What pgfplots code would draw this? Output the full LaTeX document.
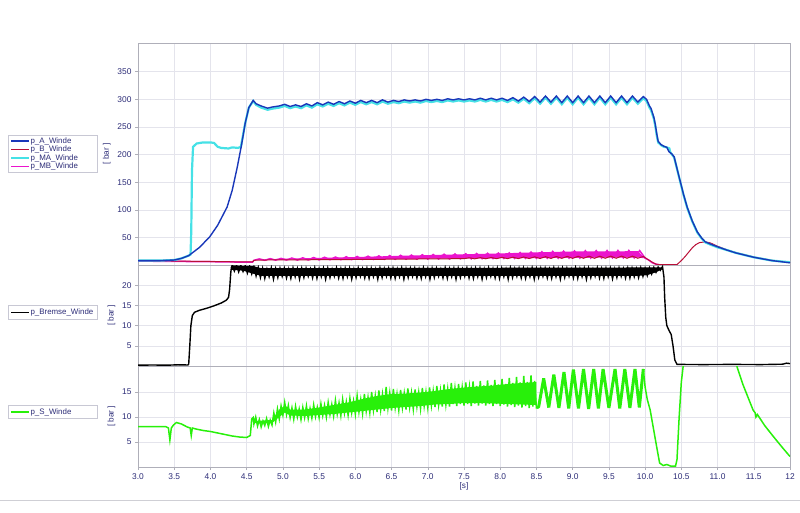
\documentclass[border=0pt]{standalone}
\usepackage{pgfplots}
\pgfplotsset{compat=1.18}
\usepackage{fontspec}
\setmainfont{Liberation Sans}

\definecolor{navy}{RGB}{45,45,120}
\definecolor{cA}{RGB}{25,55,185}
\definecolor{cB}{RGB}{185,15,55}
\definecolor{cMA}{RGB}{70,225,230}
\definecolor{cMB}{RGB}{235,20,205}
\definecolor{cS}{RGB}{40,240,10}
\definecolor{framec}{RGB}{175,175,185}
\definecolor{gridc}{RGB}{228,228,236}
\definecolor{legbox}{RGB}{200,200,212}

\pgfplotsset{
  panel/.style={
    scale only axis, width=652pt,
    xmin=3, xmax=12, ymin=0,
    xtick={3,3.5,...,12},
    grid=major, major grid style={gridc,line width=0.5pt},
    axis line style={framec,line width=0.6pt},
    tick style={framec,line width=0.5pt},
    tick align=outside, tick pos=left, major tick length=3pt,
    ticklabel style={font=\fontsize{8.4}{9}\selectfont, text=navy},
    /pgf/number format/assume math mode=true,
    ylabel={[ bar ]},
    ylabel style={font=\fontsize{8.2}{9}\selectfont, text=navy},
    legend cell align=left,
    legend image code/.code={\draw[##1] (0pt,0pt) -- (18pt,0pt);},
    legend style={draw=legbox, fill=white, font=\fontsize{7.9}{9}\selectfont,
      text=navy, anchor=north west, inner xsep=2.5pt, inner ysep=1.8pt,
      nodes={inner sep=0.6pt}},
  },
  upper/.style={panel, xticklabels={}, xtick style={draw=none}},
}

\begin{document}
\begin{tikzpicture}
\useasboundingbox (0,0) rectangle (800pt,512pt);
\draw[framec!60] (0pt,12pt) -- (800pt,12pt);

% ---------------- top panel: winch pressures ----------------
\begin{axis}[upper, at={(138pt,247pt)}, anchor=south west, height=222pt,
  ymax=402, ytick={50,100,...,350},
  legend style={at={(axis description cs:-0.1994,0.586)}}]
\addlegendimage{cA, line width=1.3pt}
\addlegendentry{\makebox[64pt][l]{p\_A\_Winde}}
\addlegendimage{cB, line width=1.3pt}
\addlegendentry{\makebox[64pt][l]{p\_B\_Winde}}
\addlegendimage{cMA, line width=1.3pt}
\addlegendentry{\makebox[64pt][l]{p\_MA\_Winde}}
\addlegendimage{cMB, line width=1.3pt}
\addlegendentry{\makebox[64pt][l]{p\_MB\_Winde}}

% p_MB_Winde (band body, then the ripple itself)
\addplot[draw=none, fill=cMB, forget plot] coordinates {
(4.60,9.0)(5.00,11.5)(6.00,14.5)(7.00,18.0)(8.00,21.0)(8.50,23.0)(9.00,24.5)(9.90,25.0)(10.00,12.0)
(9.90,13.5)(9.00,13.0)(8.00,12.3)(7.00,11.3)(6.00,10.3)(5.00,9.5)(4.60,9.0)};
\addplot[cMB, line width=1.5pt, forget plot] coordinates {
(3.00,7.0)(4.00,6.0)(4.58,5.0)
(4.600,8.5)(4.675,11.0)(4.750,8.6)(4.825,11.5)(4.900,8.8)(4.975,12.0)(5.050,9.0)(5.125,12.6)(5.200,9.0)(5.275,13.0)
(5.350,9.2)(5.425,13.5)(5.500,9.3)(5.575,14.0)(5.650,9.5)(5.725,14.4)(5.800,9.6)(5.875,14.9)(5.950,9.8)(6.025,15.4)
(6.100,9.9)(6.175,16.0)(6.250,10.0)(6.325,16.5)(6.400,10.2)(6.475,17.0)(6.550,10.3)(6.625,17.5)(6.700,10.5)(6.775,18.0)
(6.850,10.6)(6.925,18.6)(7.000,10.8)(7.075,19.0)(7.150,10.9)(7.225,19.5)(7.300,11.0)(7.375,20.0)(7.450,11.2)(7.525,20.4)
(7.600,11.3)(7.675,20.8)(7.750,11.5)(7.825,21.2)(7.900,11.6)(7.975,21.6)(8.050,11.8)(8.125,22.0)(8.200,11.9)(8.275,22.6)
(8.350,12.0)(8.425,23.4)(8.500,12.1)(8.575,24.0)(8.650,12.2)(8.725,24.6)(8.800,12.3)(8.875,25.0)(8.950,12.4)(9.025,25.4)
(9.100,12.5)(9.175,25.8)(9.250,12.6)(9.325,26.0)(9.400,12.7)(9.475,26.2)(9.550,12.8)(9.625,26.3)(9.700,12.9)(9.775,26.3)
(9.850,12.9)(9.925,26.0)(10.000,12.5)
(10.05,9)(10.10,4)(10.15,1.5)(10.18,1.0)};

% p_B_Winde
\addplot[cB, line width=1pt, forget plot] coordinates {
(3.00,8.0)(3.30,7.5)(3.60,7.0)(3.90,6.5)(4.20,6.0)(4.50,5.5)(4.58,5.5)(4.60,8.5)(4.70,9.0)(5.00,9.2)
(5.50,9.6)(6.00,10.0)(6.50,10.5)(7.00,11.0)(7.50,11.5)
(7.575,13.0)(7.65,11.2)(7.725,13.3)(7.80,11.3)(7.875,13.6)(7.95,11.4)(8.025,13.9)(8.10,11.5)(8.175,14.2)(8.25,11.6)
(8.325,14.5)(8.40,11.7)(8.475,14.8)(8.55,11.8)(8.625,15.1)(8.70,11.9)(8.775,15.4)(8.85,12.0)(8.925,15.6)(9.00,12.0)
(9.075,15.8)(9.15,12.1)(9.225,16.0)(9.30,12.1)(9.375,16.0)(9.45,12.2)(9.525,16.1)(9.60,12.2)(9.675,16.1)(9.75,12.2)
(9.825,16.0)(9.90,12.2)(9.975,15.5)
(10.05,9)(10.10,5)(10.15,1.5)(10.20,0.8)(10.44,0.8)(10.50,8)(10.55,15)(10.60,23)(10.65,31)(10.70,37)
(10.75,40.5)(10.83,42)(10.90,40)(11.00,34)(11.13,27.5)(11.25,22.5)(11.50,14.5)(11.75,8.5)(12.00,4.5)};

% p_MA_Winde
\addplot[cMA, line width=2.2pt, forget plot] coordinates {
(3.00,8)(3.30,8)(3.50,9)(3.60,12)(3.70,17)(3.725,19)(3.735,60)(3.745,170)(3.76,214)(3.81,220)
(3.90,222)(4.00,222)(4.05,221)(4.10,214)(4.15,212)(4.25,211)(4.30,213)(4.38,212)(4.42,214)(4.48,257)
(4.53,285)(4.59,297)(4.63,290)(4.70,285)(4.79,281)(4.85,283)
(4.950,285)(5.025,288)(5.100,284)(5.175,287)(5.250,284)(5.325,289)(5.400,285)(5.475,291)(5.550,287)(5.625,292)
(5.700,288)(5.775,293)(5.850,289)(5.925,294)(6.000,290)(6.075,295)(6.150,291)(6.225,295)(6.300,291)(6.375,296)
(6.450,292)(6.525,295)(6.600,293)(6.675,296)(6.750,294)(6.825,296)(6.900,294)(6.975,297)(7.050,295)(7.125,297)
(7.200,295)(7.275,298)(7.350,296)(7.425,298)(7.500,296)(7.575,298)(7.650,296)(7.725,299)(7.800,296)(7.875,299)
(7.950,296)(8.025,299)(8.100,295)(8.175,300)(8.250,294)(8.325,301)(8.400,293)(8.475,302)(8.550,292)(8.625,303)
(8.700,292)(8.775,303)(8.850,291)(8.925,303)(9.000,291)(9.075,303)(9.150,291)(9.225,303)(9.300,291)(9.375,303)
(9.450,291)(9.525,303)(9.600,291)(9.675,303)(9.750,291)(9.825,303)(9.900,292)(9.975,302)
(10.02,297)(10.06,285)(10.08,281)(10.10,273)(10.12,265)(10.14,252)(10.16,235)(10.18,222)(10.22,217)(10.26,214)
(10.30,213)(10.335,211)(10.345,205)(10.37,200)(10.40,195)(10.44,174)(10.48,153)(10.53,127)(10.58,104)(10.65,79)
(10.72,59)(10.78,48)(10.83,41)(10.90,37)(11.00,32)(11.13,27)(11.25,22)(11.50,14)(11.75,8)(12.00,5)};

% p_A_Winde
\addplot[cA, line width=1.4pt, forget plot] coordinates {
(3.00,8)(3.30,8)(3.50,9)(3.60,12)(3.70,17)(3.76,23)(3.85,32)(3.99,51)(4.10,72)(4.23,105)
(4.30,135)(4.37,177)(4.43,218)(4.48,257)(4.53,285)(4.59,298)(4.63,292)(4.70,288)(4.79,284)(4.85,286)
(4.950,288)(5.025,291)(5.100,287)(5.175,290)(5.250,287)(5.325,292)(5.400,288)(5.475,294)(5.550,290)(5.625,295)
(5.700,291)(5.775,296)(5.850,292)(5.925,297)(6.000,293)(6.075,298)(6.150,294)(6.225,298)(6.300,294)(6.375,299)
(6.450,295)(6.525,298)(6.600,296)(6.675,299)(6.750,297)(6.825,299)(6.900,297)(6.975,300)(7.050,298)(7.125,300)
(7.200,298)(7.275,301)(7.350,299)(7.425,301)(7.500,299)(7.575,301)(7.650,299)(7.725,302)(7.800,299)(7.875,302)
(7.950,299)(8.025,302)(8.100,298)(8.175,303)(8.250,297)(8.325,304)(8.400,296)(8.475,305)(8.550,295)(8.625,306)
(8.700,295)(8.775,306)(8.850,294)(8.925,306)(9.000,294)(9.075,306)(9.150,294)(9.225,306)(9.300,294)(9.375,306)
(9.450,294)(9.525,306)(9.600,294)(9.675,306)(9.750,294)(9.825,306)(9.900,295)(9.975,305)
(10.02,300)(10.06,288)(10.08,284)(10.10,276)(10.12,268)(10.14,255)(10.16,238)(10.18,224)(10.22,218)(10.26,215)
(10.30,213)(10.33,205)(10.37,201)(10.40,196)(10.44,175)(10.48,154)(10.53,128)(10.58,105)(10.65,80)(10.72,60)
(10.78,49)(10.83,42)(10.90,38)(11.00,33)(11.13,27)(11.25,22)(11.50,14)(11.75,8)(12.00,4)};
\end{axis}

% ---------------- middle panel: brake pressure ----------------
\begin{axis}[upper, at={(138pt,146pt)}, anchor=south west, height=101pt,
  ymax=25, ytick={5,10,15,20},
  legend style={at={(axis description cs:-0.1994,0.604)}, inner ysep=3pt}]
\addlegendimage{black, line width=1.3pt}
\addlegendentry{\makebox[64pt][l]{p\_Bremse\_Winde}}
% body of the oscillating band
\addplot[draw=none, fill=black, forget plot] coordinates {
(4.29,24.5)(4.30,24.9)(4.60,24.7)(4.70,24.2)(10.24,24.4)(10.24,24.0)(10.15,23.2)(10.03,22.5)(9.90,22.3)
(9.00,22.3)(8.00,22.3)(7.00,22.3)(6.00,22.3)(5.00,22.3)(4.70,22.3)(4.60,22.8)(4.45,23.6)(4.30,23.8)};
\addplot[black, line width=1.4pt, forget plot] coordinates {
(3.00,0.2)(3.20,0.25)(3.40,0.2)(3.55,0.3)(3.69,0.25)(3.70,0.5)(3.715,5)(3.73,10)(3.75,12.5)(3.78,13.3)
(3.85,13.8)(3.95,14.3)(4.05,14.9)(4.15,15.6)(4.22,16.3)(4.25,17.0)(4.265,19)(4.28,23)(4.29,24.5)
(4.30,24.9)(4.33,23.5)(4.36,25.0)(4.39,23.3)(4.42,24.9)(4.45,23.4)(4.48,24.8)(4.51,23.0)(4.54,24.8)(4.57,22.8)
(4.60,24.6)(4.63,22.3)(4.66,24.4)(4.69,21.9)(4.72,24.2)(4.75,21.7)(4.78,24.0)(4.81,22.1)(4.84,24.3)(4.87,21.5)
(4.90,24.1)(4.93,21.9)(4.96,24.2)(4.99,22.2)(5.02,24.2)(5.05,21.8)(5.08,24.0)(5.11,21.7)(5.14,24.3)(5.17,22.1)
(5.20,24.1)(5.23,21.5)(5.26,24.2)(5.29,21.9)(5.32,24.2)(5.35,22.2)(5.38,24.0)(5.41,21.8)(5.44,24.3)(5.47,21.7)
(5.50,24.1)(5.53,22.1)(5.56,24.2)(5.59,21.5)(5.62,24.2)(5.65,21.9)(5.68,24.0)(5.71,22.2)(5.74,24.3)(5.77,21.8)
(5.80,24.1)(5.83,21.7)(5.86,24.2)(5.89,22.1)(5.92,24.2)(5.95,21.5)(5.98,24.0)(6.01,21.9)(6.04,24.3)(6.07,22.2)
(6.10,24.1)(6.13,21.8)(6.16,24.2)(6.19,21.7)(6.22,24.2)(6.25,22.1)(6.28,24.0)(6.31,21.5)(6.34,24.3)(6.37,21.9)
(6.40,24.1)(6.43,22.2)(6.46,24.2)(6.49,21.8)(6.52,24.2)(6.55,21.7)(6.58,24.0)(6.61,22.1)(6.64,24.3)(6.67,21.5)
(6.70,24.1)(6.73,21.9)(6.76,24.2)(6.79,22.2)(6.82,24.2)(6.85,21.8)(6.88,24.0)(6.91,21.7)(6.94,24.3)(6.97,22.1)
(7.00,24.1)(7.03,21.5)(7.06,24.2)(7.09,21.9)(7.12,24.2)(7.15,22.2)(7.18,24.0)(7.21,21.8)(7.24,24.3)(7.27,21.7)
(7.30,24.1)(7.33,22.1)(7.36,24.2)(7.39,21.5)(7.42,24.2)(7.45,21.9)(7.48,24.0)(7.51,22.2)(7.54,24.3)(7.57,21.8)
(7.60,24.1)(7.63,21.7)(7.66,24.2)(7.69,22.1)(7.72,24.2)(7.75,21.5)(7.78,24.0)(7.81,21.9)(7.84,24.3)(7.87,22.2)
(7.90,24.1)(7.93,21.8)(7.96,24.2)(7.99,21.7)(8.02,24.2)(8.05,22.1)(8.08,24.0)(8.11,21.5)(8.14,24.3)(8.17,21.9)
(8.20,24.1)(8.23,22.2)(8.26,24.2)(8.29,21.8)(8.32,24.2)(8.35,21.7)(8.38,24.0)(8.41,22.1)(8.44,24.3)(8.47,21.5)
(8.50,24.1)(8.53,21.9)(8.56,24.2)(8.59,22.2)(8.62,24.2)(8.65,21.8)(8.68,24.0)(8.71,21.7)(8.74,24.3)(8.77,22.1)
(8.80,24.1)(8.83,21.5)(8.86,24.2)(8.89,21.9)(8.92,24.2)(8.95,22.2)(8.98,24.0)(9.01,21.8)(9.04,24.3)(9.07,21.7)
(9.10,24.1)(9.13,22.1)(9.16,24.2)(9.19,21.5)(9.22,24.2)(9.25,21.9)(9.28,24.0)(9.31,22.2)(9.34,24.3)(9.37,21.8)
(9.40,24.1)(9.43,21.7)(9.46,24.2)(9.49,22.1)(9.52,24.2)(9.55,21.6)(9.58,24.0)(9.61,21.9)(9.64,24.3)(9.67,22.2)
(9.70,24.1)(9.73,21.8)(9.76,24.2)(9.79,21.8)(9.82,24.2)(9.85,22.1)(9.88,24.1)(9.91,21.9)(9.94,24.3)(9.97,22.2)
(10.00,24.2)(10.03,22.4)(10.06,24.3)(10.09,22.8)(10.12,24.4)(10.15,23.2)(10.18,24.5)(10.21,23.7)(10.24,24.6)
(10.26,22)(10.27,17)(10.285,12)(10.30,10)(10.33,8.8)(10.36,7.8)(10.385,5)(10.41,1.5)(10.44,0.4)(10.80,0.35)
(11.20,0.4)(11.60,0.35)(11.90,0.45)(11.95,0.7)(12.00,0.6)};
\end{axis}

% ---------------- bottom panel: p_S ----------------
\begin{axis}[panel, at={(138pt,45pt)}, anchor=south west, height=101pt,
  ymax=20.2, ytick={5,10,15},
  xticklabels={3.0,3.5,4.0,4.5,5.0,5.5,6.0,6.5,7.0,7.5,8.0,8.5,9.0,9.5,10.0,10.5,11.0,11.5,12},
  xlabel={[s]}, xlabel style={font=\fontsize{8.2}{9}\selectfont, text=navy, yshift=4pt},
  legend style={at={(axis description cs:-0.1994,0.614)}, inner ysep=2.5pt}]
\addlegendimage{cS, line width=1.3pt}
\addlegendentry{\makebox[64pt][l]{p\_S\_Winde}}
% body of the oscillating band
\addplot[draw=none, fill=cS, forget plot] coordinates {
(4.60,9.2)(4.85,9.4)(4.95,11.5)(5.03,12.3)(5.10,11.5)(5.30,11.5)(5.50,11.9)(5.70,12.4)(5.90,12.9)(6.10,13.6)
(6.30,14.2)(6.50,14.6)(6.70,14.7)(6.90,14.9)(7.10,15.2)(7.30,15.6)(7.50,15.9)(7.70,16.1)(7.90,16.3)(8.10,16.6)
(8.30,16.8)(8.50,17.0)(8.50,12.4)(8.30,12.5)(8.10,12.6)(7.90,12.7)(7.70,12.8)(7.50,12.8)(7.30,12.6)(7.10,12.5)
(6.90,12.2)(6.70,12.0)(6.50,11.8)(6.30,11.5)(6.10,11.2)(5.90,10.9)(5.70,10.6)(5.50,10.4)(5.30,10.2)(5.10,10.3)
(5.03,10.9)(4.95,10.0)(4.85,8.8)(4.60,8.8)};
\addplot[cS, line width=1.5pt, forget plot] coordinates {
(3.00,8.1)(3.20,8.1)(3.38,8.1)(3.42,7.8)(3.44,5.4)(3.46,7.8)(3.49,8.4)(3.53,8.9)(3.60,8.6)(3.68,8.0)
(3.72,7.8)(3.735,6.3)(3.75,7.8)(3.80,7.6)(3.90,7.3)(4.00,7.1)(4.10,6.8)(4.20,6.5)(4.30,6.2)(4.40,6.0)
(4.50,5.9)(4.55,6.3)(4.57,9.6)(4.59,9.9)
(4.600,8.6)(4.625,10.0)(4.650,8.2)(4.675,9.5)(4.700,8.0)(4.725,9.2)(4.750,8.3)(4.775,9.7)(4.800,8.1)(4.825,9.4)
(4.850,8.4)(4.875,10.8)(4.900,9.0)(4.925,11.6)(4.950,9.6)(4.975,12.2)(5.000,10.4)(5.025,12.9)(5.050,10.5)(5.075,12.3)
(5.100,9.9)(5.125,11.8)(5.150,9.6)(5.175,12.1)(5.200,10.0)(5.225,11.6)(5.250,9.5)(5.275,11.9)(5.300,9.9)(5.325,12.2)
(5.350,9.7)(5.375,11.7)(5.400,9.8)(5.425,12.4)(5.450,10.1)(5.475,11.9)(5.500,9.9)(5.525,12.6)(5.550,10.3)(5.575,12.3)
(5.600,10.0)(5.625,12.9)(5.650,10.5)(5.675,12.5)(5.700,10.2)(5.725,13.3)(5.750,10.6)(5.775,12.8)(5.800,10.3)(5.825,13.5)
(5.850,10.8)(5.875,13.0)(5.900,10.4)(5.925,13.7)(5.950,10.9)(5.975,13.2)(6.000,10.6)(6.025,14.2)(6.050,11.0)(6.075,13.5)
(6.100,10.7)(6.125,14.6)(6.150,11.2)(6.175,13.9)(6.200,10.9)(6.225,15.0)(6.250,11.4)(6.275,14.2)(6.300,11.0)(6.325,15.3)
(6.350,11.5)(6.375,14.5)(6.400,11.2)(6.425,16.0)(6.450,11.8)(6.475,14.8)(6.500,11.3)(6.525,15.6)(6.550,11.9)(6.575,14.6)
(6.600,11.4)(6.625,15.4)(6.650,11.9)(6.675,14.7)(6.700,11.5)(6.725,15.7)(6.750,12.0)(6.775,14.8)(6.800,11.6)(6.825,15.5)
(6.850,12.1)(6.875,14.9)(6.900,11.7)(6.925,15.8)(6.950,12.2)(6.975,15.0)(7.000,11.9)(7.025,15.9)(7.050,12.3)(7.075,15.2)
(7.100,12.0)(7.125,16.2)(7.150,12.4)(7.175,15.3)(7.200,12.1)(7.225,16.5)(7.250,12.5)(7.275,15.6)(7.300,12.1)(7.325,16.8)
(7.350,12.6)(7.375,15.8)(7.400,12.2)(7.425,16.6)(7.450,12.6)(7.475,15.9)(7.500,12.3)(7.525,16.9)(7.550,12.6)(7.575,16.0)
(7.600,12.2)(7.625,17.1)(7.650,12.7)(7.675,16.2)(7.700,12.3)(7.725,17.2)(7.750,12.7)(7.775,16.3)(7.800,12.3)(7.825,17.3)
(7.850,12.6)(7.875,16.4)(7.900,12.2)(7.925,17.4)(7.950,12.6)(7.975,16.5)(8.000,12.2)(8.025,17.6)(8.050,12.5)(8.075,16.6)
(8.100,12.1)(8.125,17.8)(8.150,12.4)(8.175,16.8)(8.200,12.0)(8.225,18.0)(8.250,12.3)(8.275,16.9)(8.300,11.9)(8.325,18.2)
(8.350,12.2)(8.375,17.0)(8.400,11.8)(8.425,18.3)(8.450,12.1)(8.475,17.2)(8.500,11.7)};
\addplot[cS, line width=3pt, line join=bevel, forget plot] coordinates {
(8.500,11.9)(8.530,12.0)(8.600,17.7)(8.670,11.9)(8.740,18.5)(8.810,11.8)(8.880,19.0)(8.945,11.7)(9.010,19.5)(9.080,11.7)
(9.150,19.6)(9.220,11.6)(9.290,19.6)(9.355,11.7)(9.420,19.6)(9.500,11.8)(9.585,19.6)(9.650,11.7)(9.720,19.6)(9.790,11.8)
(9.860,19.6)(9.920,11.9)(9.975,19.6)};
\addplot[cS, line width=1.5pt, forget plot] coordinates {
(9.975,19.6)(10.00,16.0)(10.03,13.5)(10.07,11.4)(10.11,8.1)(10.16,4.0)(10.20,0.8)(10.25,0.3)(10.30,0.5)(10.35,0.2)
(10.42,0.2)(10.44,1.5)(10.47,10)(10.50,17)(10.54,22)(10.60,30)(10.70,35)(11.00,35)(11.20,25)(11.27,20)
(11.35,16.5)(11.49,11.4)(11.52,10.8)(11.53,10.0)(11.55,10.5)(11.65,8.3)(11.77,6.1)(11.90,3.8)(12.00,2.1)};
\end{axis}
\end{tikzpicture}
\end{document}
